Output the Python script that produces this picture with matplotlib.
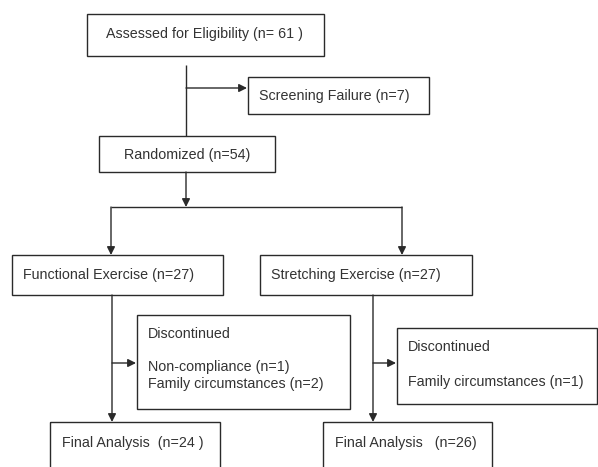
import matplotlib.pyplot as plt
from matplotlib.patches import Rectangle

plt.rcParams['font.family'] = ['Liberation Sans', 'DejaVu Sans']

# flow data
stages = ["Assessed for Eligibility", "Randomized"]
stage_n = [61, 54]
excluded = "Screening Failure"
excluded_n = 7
arms = ["Functional Exercise", "Stretching Exercise"]
arm_n = [27, 27]
discont_reasons = [["Non-compliance", "Family circumstances"], ["Family circumstances"]]
discont_n = [[1, 2], [1]]
final_n = [24, 26]

fig = plt.figure(figsize=(5.98, 4.67), dpi=100)
ax = fig.add_axes([0, 0, 1, 1])
ax.set_xlim(0, 598)
ax.set_ylim(467, 0)
ax.axis('off')

LW = 1.0
FS = 10.3
INK = '#2a2a2a'


def box(x0, y0, x1, y1):
    ax.add_patch(Rectangle((x0, y0), x1 - x0, y1 - y0, fill=False,
                           edgecolor=INK, linewidth=LW, clip_on=False))


def line(xs, ys):
    ax.plot(xs, ys, color=INK, linewidth=LW, solid_capstyle='butt')


def arrow(x0, y0, x1, y1):
    ax.annotate('', xy=(x1, y1), xytext=(x0, y0),
                arrowprops=dict(arrowstyle='-|>', color=INK, lw=LW,
                                mutation_scale=12, shrinkA=0, shrinkB=0))


def txt(x, y, s, ha='left'):
    ax.text(x, y, s, ha=ha, va='center', fontsize=FS, color='#333333')


# assessed
box(87, 14, 324, 56)
txt(205, 34, f"Assessed for Eligibility (n= {stage_n[0]} )", ha='center')
line([186, 186], [65, 136])
arrow(186, 88, 247, 88)
box(248, 77, 429, 114)
txt(334, 96, f"{excluded} (n={excluded_n})", ha='center')

# randomized
box(99, 136, 275, 172)
txt(187, 155, f"{stages[1]} (n={stage_n[1]})", ha='center')
arrow(186, 172, 186, 207)
line([111, 402], [207, 207])
arrow(111, 207, 111, 255)
arrow(402, 207, 402, 255)

# arms
arm_boxes = [(12, 223), (260, 472)]
arm_x = [112, 373]
disc_boxes = [(137, 315, 350, 409), (397, 328, 597, 404)]
final_boxes = [(50, 220), (323, 492)]
final_lbl = ["Final Analysis  (n={} )", "Final Analysis   (n={})"]

for i in range(2):
    bx0, bx1 = arm_boxes[i]
    box(bx0, 255, bx1, 295)
    txt(bx0 + 11, 275, f"{arms[i]} (n={arm_n[i]})")

    vx = arm_x[i]
    arrow(vx, 295, vx, 422)
    dx0, dy0, dx1, dy1 = disc_boxes[i]
    arrow(vx, 363, dx0 - 1, 363)
    box(dx0, dy0, dx1, dy1)
    txt(dx0 + 11, dy0 + 19, "Discontinued")
    for j, (r, n) in enumerate(zip(discont_reasons[i], discont_n[i])):
        yy = dy0 + 52 + j * 17 if i == 0 else dy0 + 54
        txt(dx0 + 11, yy, f"{r} (n={n})")

    fx0, fx1 = final_boxes[i]
    box(fx0, 422, fx1, 480)
    txt(fx0 + 12, 443, final_lbl[i].format(final_n[i]))

fig.savefig("out.png", dpi=100)
